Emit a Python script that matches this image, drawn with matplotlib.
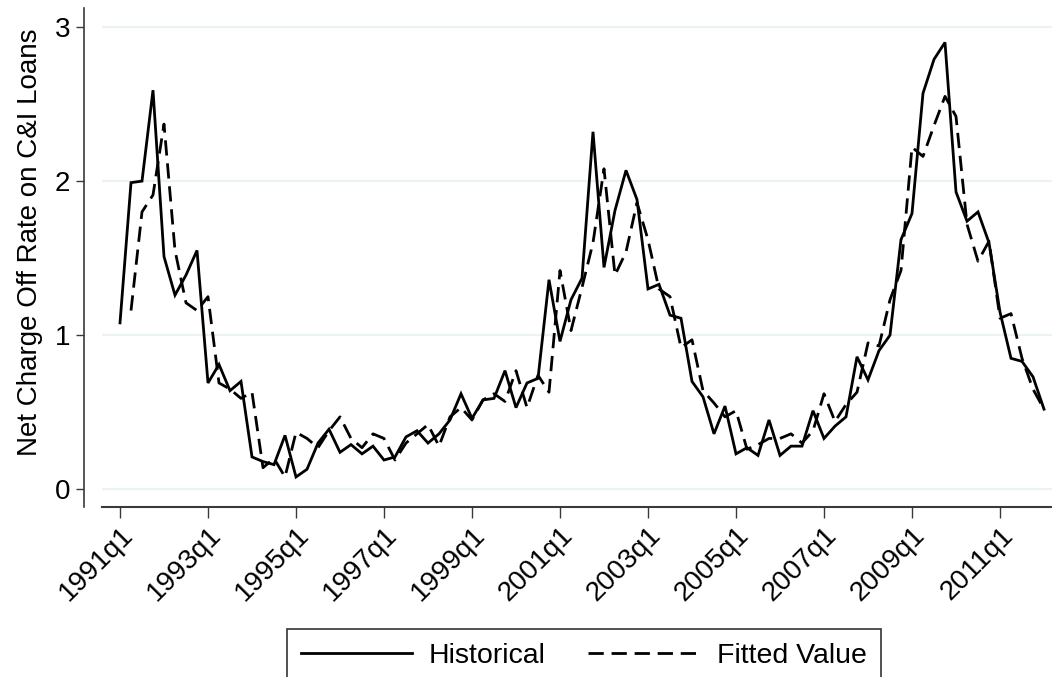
import numpy as np
import matplotlib
matplotlib.use("Agg")
import matplotlib.pyplot as plt

# Quarterly data, 1991q1 .. 2012q1
historical = [
    1.08, 1.99, 2.00, 2.59,   # 1991
    1.51, 1.26, 1.39, 1.55,   # 1992
    0.69, 0.81, 0.64, 0.70,   # 1993
    0.21, 0.18, 0.16, 0.35,   # 1994
    0.08, 0.13, 0.30, 0.39,   # 1995
    0.24, 0.29, 0.23, 0.28,   # 1996
    0.19, 0.21, 0.34, 0.38,   # 1997
    0.30, 0.36, 0.45, 0.62,   # 1998
    0.46, 0.58, 0.59, 0.77,   # 1999
    0.53, 0.69, 0.72, 1.36,   # 2000
    0.96, 1.23, 1.37, 2.32,   # 2001
    1.44, 1.81, 2.07, 1.88,   # 2002
    1.30, 1.33, 1.13, 1.11,   # 2003
    0.70, 0.60, 0.36, 0.54,   # 2004
    0.23, 0.27, 0.22, 0.45,   # 2005
    0.22, 0.28, 0.28, 0.51,   # 2006
    0.33, 0.41, 0.47, 0.86,   # 2007
    0.71, 0.90, 1.00, 1.62,   # 2008
    1.79, 2.57, 2.79, 2.90,   # 2009
    1.93, 1.74, 1.80, 1.60,   # 2010
    1.15, 0.85, 0.83, 0.73,   # 2011
    0.52,                     # 2012
]
fitted = [
    np.nan, 1.16, 1.80, 1.91,  # 1991
    2.37, 1.55, 1.21, 1.16,    # 1992
    1.25, 0.69, 0.65, 0.59,    # 1993
    0.63, 0.14, 0.20, 0.08,    # 1994
    0.37, 0.33, 0.27, 0.38,    # 1995
    0.47, 0.33, 0.27, 0.36,    # 1996
    0.33, 0.19, 0.30, 0.36,    # 1997
    0.42, 0.28, 0.47, 0.53,    # 1998
    0.45, 0.58, 0.62, 0.57,    # 1999
    0.77, 0.53, 0.74, 0.63,    # 2000
    1.42, 1.03, 1.31, 1.60,    # 2001
    2.08, 1.39, 1.54, 1.86,    # 2002
    1.62, 1.30, 1.25, 0.92,    # 2003
    0.97, 0.64, 0.56, 0.47,    # 2004
    0.51, 0.26, 0.29, 0.33,    # 2005
    0.33, 0.36, 0.30, 0.38,    # 2006
    0.62, 0.44, 0.55, 0.63,    # 2007
    0.95, 0.93, 1.23, 1.42,    # 2008
    2.22, 2.16, 2.36, 2.55,    # 2009
    2.42, 1.72, 1.48, 1.61,    # 2010
    1.11, 1.14, 0.85, 0.65,    # 2011
    0.52,                      # 2012
]
tick_labels = ["1991q1", "1993q1", "1995q1", "1997q1", "1999q1", "2001q1",
               "2003q1", "2005q1", "2007q1", "2009q1", "2011q1"]
y_ticks = [0, 1, 2, 3]

plt.rcParams['font.family'] = ['Liberation Sans', 'DejaVu Sans']

W, H = 1052, 677
fig = plt.figure(figsize=(W / 100, H / 100), dpi=100)
fig.patch.set_facecolor("white")

ax_left, ax_right, ax_top, ax_bot = 102, 1052, 8, 507
ax = fig.add_axes([ax_left / W, 1 - ax_bot / H, (ax_right - ax_left) / W, (ax_bot - ax_top) / H])

q = np.arange(len(historical))
ax.plot(q, historical, color="black", lw=2.0, solid_joinstyle="miter", label="Historical")
ax.plot(q, fitted, color="black", lw=2.0, linestyle=(0, (5.5, 2.8)), label="Fitted Value")

px_per_q = 11.0
ax.set_xlim(-(120 - ax_left) / px_per_q, (ax_right - 120) / px_per_q)
px_per_unit = 154.1
y0 = 489.3
ax.set_ylim(-(ax_bot - y0) / px_per_unit, (y0 - ax_top) / px_per_unit)

ax.set_yticks(y_ticks)
ax.set_yticklabels([str(v) for v in y_ticks])
xt = [tick_labels.index(l) * 8 for l in tick_labels]
ax.set_xticks(xt)
ax.set_xticklabels(tick_labels, rotation=45, ha="right", rotation_mode="anchor")

for yv in y_ticks:
    ax.axhline(yv, color="#eaf2f3", lw=1.6, zorder=0)

spine_col = "#3a3a3a"
ax.spines["top"].set_visible(False)
ax.spines["right"].set_visible(False)
ax.spines["left"].set_position(("outward", 18 * 0.72))
ax.spines["left"].set_color(spine_col)
ax.spines["left"].set_linewidth(1.2)
ax.spines["bottom"].set_color(spine_col)
ax.spines["bottom"].set_linewidth(1.5)

ax.tick_params(axis="y", length=6, width=1.0, color=spine_col, labelsize=20, pad=4)
ax.tick_params(axis="x", length=8, width=1.0, color=spine_col, labelsize=20, pad=3)

ax.set_ylabel("Net Charge Off Rate on C&I Loans", fontsize=20)
ax.yaxis.set_label_coords((43 - ax_left) / (ax_right - ax_left), (ax_bot - 242) / (ax_bot - ax_top))

leg = fig.legend(loc="upper left", bbox_to_anchor=(286.5 / W, 1 - 629 / H),
                 ncol=2, frameon=True, fancybox=False, edgecolor="black",
                 fontsize=20.5, handlelength=3.9, handletextpad=0.6,
                 columnspacing=1.5, borderpad=0.5, borderaxespad=0)
leg.get_frame().set_linewidth(1.2)

fig.savefig("out.png", dpi=100, facecolor="white")
